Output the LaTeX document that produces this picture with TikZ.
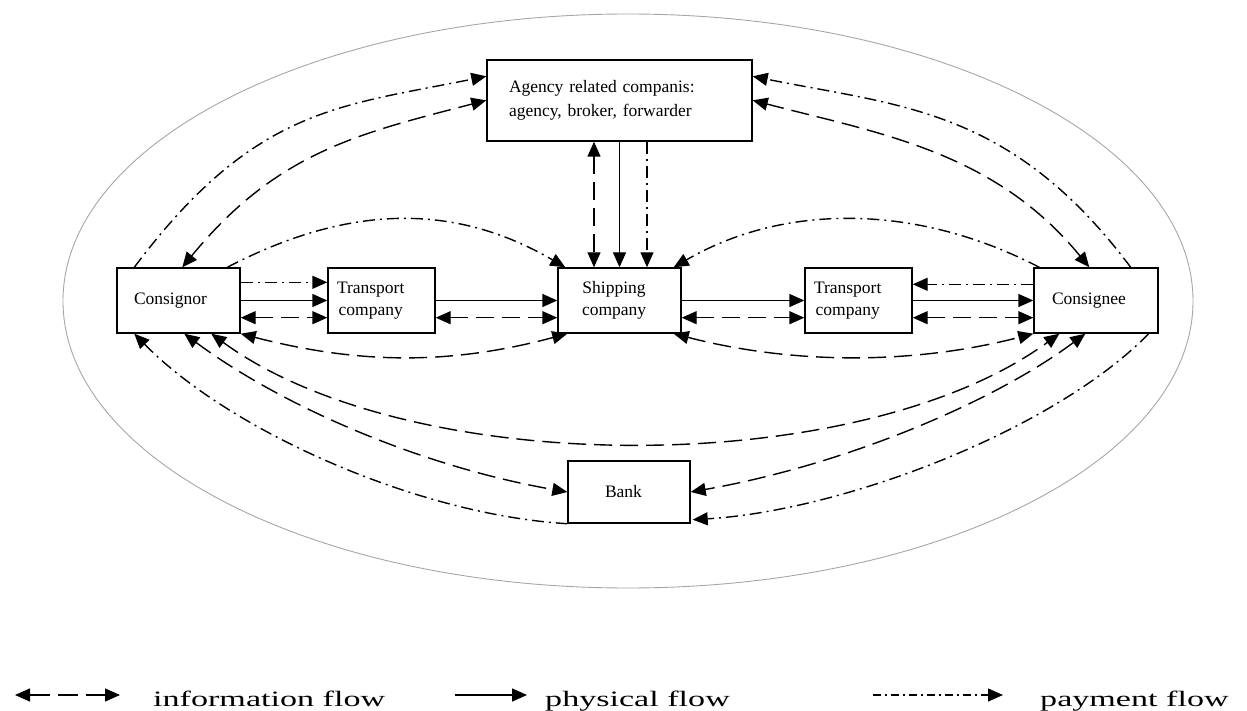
\documentclass[tikz,border=0pt]{standalone}
\usepackage{fontspec}
\setmainfont{Liberation Serif}
\usepackage{graphicx}
\usetikzlibrary{arrows.meta,calc}
\begin{document}
\begin{tikzpicture}[x=1pt,y=-1pt,
  >={Triangle[length=15pt,width=13pt]},
  conn/.style={line width=1.4pt},
  info/.style={conn,dash pattern=on 18pt off 8pt},
  phys/.style={conn},
  pay/.style={conn,dash pattern=on 12pt off 5pt on 2pt off 5pt},
  box/.style={draw,line width=1.4pt,inner ysep=0pt,align=left,
    font=\fontsize{17.5}{22}\selectfont},
  legtext/.style={font=\fontsize{22}{26}\selectfont,inner sep=0pt}]
\useasboundingbox (0,0) rectangle (1247,711);

% enclosing boundary
\draw[gray!70,line width=0.9pt] (628,301) ellipse [x radius=565pt, y radius=287pt];

% parties
\node[box,minimum width=265pt,minimum height=81pt,text width=221pt,inner xsep=22pt,
  font=\fontsize{17.5}{24}\selectfont] (agency) at (619.5,100.5)
  {Agency related companis:\\agency, broker, forwarder};
\node[box,minimum height=65pt,text width=89pt,inner xsep=17pt] (cnor) at (178.5,300.5) {Consignor};
\node[box,minimum height=65pt,text width=89pt,inner xsep=9pt] (tr1) at (381.5,300.5)
  {\begin{tabular}{@{}c@{}}Transport\\company\end{tabular}};
\node[box,minimum height=65pt,text width=75pt,inner xsep=24pt] (ship) at (619.5,300.5)
  {\begin{tabular}{@{}c@{}}Shipping\\company\end{tabular}};
\node[box,minimum height=65pt,text width=89pt,inner xsep=9pt] (tr2) at (858.5,300.5)
  {\begin{tabular}{@{}c@{}}Transport\\company\end{tabular}};
\node[box,minimum height=65pt,text width=88pt,inner xsep=18pt] (cnee) at (1096,300.5) {Consignee};
\node[box,minimum height=62pt,text width=48pt,inner xsep=37pt] (bank) at (629,492) {Bank};

% consignor <-> transport company
\draw[pay,->] ($(cnor.north east)+(0,15)$) -- ($(tr1.north west)+(0,15)$);
\draw[phys,->] (cnor.east) -- (tr1.west);
\draw[info,<->] ($(cnor.south east)+(0,-16)$) -- ($(tr1.south west)+(0,-16)$);

% transport company <-> shipping company
\draw[phys,->] (tr1.east) -- (ship.west);
\draw[info,<->] ($(tr1.south east)+(0,-16)$) -- ($(ship.south west)+(0,-16)$);

% shipping company <-> transport company
\draw[phys,->] (ship.east) -- (tr2.west);
\draw[info,<->] ($(ship.south east)+(0,-16)$) -- ($(tr2.south west)+(0,-16)$);

% transport company <-> consignee
\draw[pay,->] ($(cnee.north west)+(0,17)$) -- ($(tr2.north east)+(0,17)$);
\draw[phys,->] (tr2.east) -- (cnee.west);
\draw[info,<->] ($(tr2.south east)+(0,-16)$) -- ($(cnee.south west)+(0,-16)$);

% agency <-> shipping company
\draw[info,<->] ($(agency.south)+(-25.5,0)$) -- ($(ship.north)+(-25.5,0)$);
\draw[phys,->] (agency.south) -- (ship.north);
\draw[pay,->] ($(agency.south)+(27.5,0)$) -- ($(ship.north)+(27.5,0)$);

% consignor / consignee <-> agency
\draw[pay,->] ($(cnor.north west)+(18,0)$) .. controls +(120,-160) and +(-147,30) .. ($(agency.north west)+(0,17)$);
\draw[info,<->] ($(cnor.north west)+(66,0)$) .. controls +(95,-116) and +(-126,33) .. ($(agency.north west)+(0,41)$);
\draw[pay,->] ($(cnee.north east)+(-28,0)$) .. controls +(-120,-160) and +(147,30) .. ($(agency.north east)+(0,17)$);
\draw[info,<->] ($(cnee.north west)+(56,0)$) .. controls +(-95,-116) and +(126,33) .. ($(agency.north east)+(0,41)$);

% arcs over the transport companies
\draw[pay,->] ($(cnor.north west)+(111,0)$) .. controls +(123,-64) and +(-110,-64) .. ($(ship.north west)+(8,0)$);
\draw[pay,->] ($(cnee.north west)+(6,0)$) .. controls +(-123,-64) and +(110,-64) .. ($(ship.north east)+(-8,0)$);

% arcs under the transport companies
\draw[info,<->] (cnor.south east) .. controls +(120,31) and +(-116,31) .. ($(ship.south west)+(10,0)$);
\draw[info,<->] ($(ship.south east)+(-8,0)$) .. controls +(120,31) and +(-120,31) .. (cnee.south west);

% consignor <-> consignee
\draw[info,<->] ($(cnor.south west)+(95,0)$) .. controls +(200,146) and +(-200,146) .. ($(cnee.south west)+(26,0)$);

% bank
\draw[info,<->] ($(cnor.south west)+(68,0)$) .. controls +(97,72) and +(-148,-26) .. (bank.west);
\draw[pay,<-] ($(cnor.south west)+(18,0)$) .. controls +(95,97) and +(-150,-9) .. (bank.south west);
\draw[info,<->] ($(cnee.south west)+(52,0)$) .. controls +(-97,72) and +(148,-26) .. (bank.east);
\draw[pay,->] ($(cnee.south east)+(-10,0)$) .. controls +(-95,97) and +(150,-9) .. ($(bank.south east)+(2,-4)$);

% legend
\coordinate (l1a) at (15,695);
\coordinate (l1b) at (120,695);
\coordinate (l2a) at (455,695);
\coordinate (l2b) at (527,695);
\coordinate (l3a) at (873,695);
\coordinate (l3b) at (1003,695);
\draw[conn,<->,dash pattern=on 20pt off 8pt] (l1a) -- (l1b);
\draw[phys,->] (l2a) -- (l2b);
\draw[conn,->,dash pattern=on 8pt off 4pt on 2pt off 4pt] (l3a) -- (l3b);
\node[legtext,anchor=base west] (lt1) at (153,706) {\scalebox{1.55}[1]{information flow}};
\node[legtext,anchor=base west] (lt2) at (545,706) {\scalebox{1.55}[1]{physical flow}};
\node[legtext,anchor=base west] (lt3) at (1040,706) {\scalebox{1.55}[1]{payment flow}};
\end{tikzpicture}
\end{document}
